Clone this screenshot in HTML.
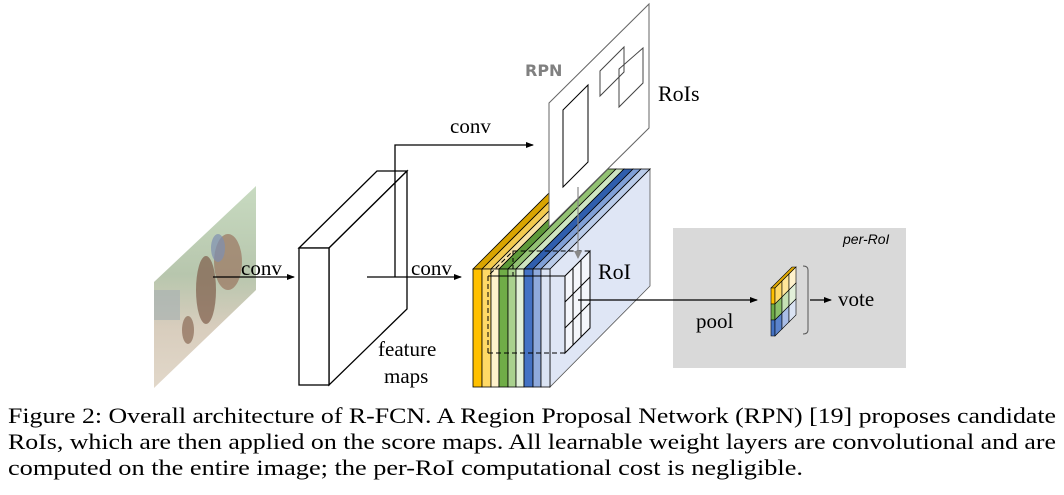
<!DOCTYPE html>
<html><head><meta charset="utf-8"><style>
html,body{margin:0;padding:0;background:#fff;}
svg{display:block;}
</style></head><body>
<svg width="1064" height="495" viewBox="0 0 1064 495" xmlns="http://www.w3.org/2000/svg">
<defs>
<linearGradient id="ph" x1="0" y1="0" x2="0" y2="1">
<stop offset="0" stop-color="#c9dcc2"/>
<stop offset="0.45" stop-color="#b7c6ad"/>
<stop offset="0.7" stop-color="#d8cdbd"/>
<stop offset="1" stop-color="#e2d8ca"/>
</linearGradient>
<clipPath id="pc"><polygon points="154,282 256,186 256,290 154,388"/></clipPath>
<marker id="ah" markerWidth="8" markerHeight="6" refX="7" refY="3" orient="auto" markerUnits="userSpaceOnUse"><path d="M0,0 L8,3 L0,6 Z" fill="#000"/></marker>
<marker id="ahg" markerWidth="8" markerHeight="8" refX="4" refY="7" orient="0" markerUnits="userSpaceOnUse"><path d="M0,0 L4,8 L8,0 Z" fill="#888"/></marker>
</defs>
<!-- photo -->
<g clip-path="url(#pc)">
<rect x="150" y="180" width="110" height="210" fill="url(#ph)"/>
<ellipse cx="228" cy="262" rx="14" ry="28" fill="#9a7560" opacity="0.7"/>
<ellipse cx="206" cy="290" rx="10" ry="34" fill="#7f5d4a" opacity="0.7"/>
<ellipse cx="218" cy="248" rx="7" ry="14" fill="#7d8fb0" opacity="0.7"/>
<ellipse cx="188" cy="330" rx="6" ry="14" fill="#8a6a55" opacity="0.7"/>
<rect x="154" y="290" width="26" height="30" fill="#a9b2b2" opacity="0.7"/>
</g>
<!-- feature maps -->
<polygon points="299,248 377,171 407,171 329,248" fill="#fff" stroke="#000" stroke-width="1.3"/>
<polygon points="329,248 407,171 407,309 329,385" fill="#fff" stroke="#000" stroke-width="1.3"/>
<rect x="299" y="248" width="30" height="137" fill="#fff" stroke="#000" stroke-width="1.3"/>
<!-- conv arrows -->
<line x1="213" y1="277" x2="294" y2="277" stroke="#000" stroke-width="1.3" marker-end="url(#ah)"/>
<line x1="367" y1="277" x2="461" y2="277" stroke="#000" stroke-width="1.3" marker-end="url(#ah)"/>
<polyline points="395,277 395,145 533,145" fill="none" stroke="#000" stroke-width="1.3" marker-end="url(#ah)"/>
<!-- stack -->
<g stroke="#000" stroke-width="0.8">
<polygon points="550,269 650,169 650,286 550,387" fill="#dfe6f5" stroke="#555"/>
<polygon points="473,269 573,169 582,169 482,269" fill="#d9a400"/>
<polygon points="482,269 582,169 591,169 491,269" fill="#f2c94c"/>
<polygon points="491,269 591,169 599,169 499,269" fill="#f7e3a6"/>
<polygon points="499,269 599,169 608,169 508,269" fill="#5e9a3a"/>
<polygon points="508,269 608,169 616,169 516,269" fill="#93c274"/>
<polygon points="516,269 616,169 624,169 524,269" fill="#cfe6c2"/>
<polygon points="524,269 624,169 633,169 533,269" fill="#2f5eae"/>
<polygon points="533,269 633,169 641,169 541,269" fill="#7f9fd6"/>
<polygon points="541,269 641,169 650,169 550,269" fill="#b9cbe9"/>
<rect x="473" y="269" width="9" height="118" fill="#ffc000"/>
<rect x="482" y="269" width="9" height="118" fill="#ffd966"/>
<rect x="491" y="269" width="8" height="118" fill="#fff2cc"/>
<rect x="499" y="269" width="9" height="118" fill="#70ad47"/>
<rect x="508" y="269" width="8" height="118" fill="#a9d18e"/>
<rect x="516" y="269" width="8" height="118" fill="#e2f0d9"/>
<rect x="524" y="269" width="9" height="118" fill="#4472c4"/>
<rect x="533" y="269" width="8" height="118" fill="#8faadc"/>
<rect x="541" y="269" width="9" height="118" fill="#dae3f3"/>
</g>
<!-- RoI box -->
<g stroke="#000" stroke-width="1" fill="none">
<polyline points="488,353 488,276 513,251 590,251" stroke-dasharray="5,3"/>
<line x1="513" y1="251" x2="513" y2="276" stroke-dasharray="4,3"/>
<line x1="488" y1="353" x2="565" y2="353" stroke-dasharray="5,3"/>
<line x1="488" y1="276" x2="565" y2="276"/>
<polygon points="565,276 590,251 590,328 565,353" fill="#f4f6fb"/>
<line x1="565" y1="276" x2="565" y2="353"/>
<line x1="573" y1="268" x2="573" y2="345"/>
<line x1="581" y1="260" x2="581" y2="337"/>
<line x1="565" y1="302" x2="590" y2="277"/>
<line x1="565" y1="328" x2="590" y2="303"/>
</g>
<!-- RPN plane -->
<polygon points="549,103 649,4 649,128 549,227" fill="#fff" stroke="#666" stroke-width="1"/>
<polygon points="563,110 588,85 588,162 563,187" fill="none" stroke="#000" stroke-width="1"/>
<polygon points="600,71 624,47 624,72 600,96" fill="none" stroke="#444" stroke-width="1"/>
<polygon points="619,69 643,48 643,83 619,107" fill="none" stroke="#444" stroke-width="1"/>
<line x1="578" y1="187" x2="578" y2="258" stroke="#888" stroke-width="1.2" marker-end="url(#ahg)"/>
<!-- per-RoI -->
<rect x="673" y="228" width="233" height="140" fill="#d9d9d9"/>
<line x1="578" y1="300" x2="757" y2="300" stroke="#000" stroke-width="1.3" marker-end="url(#ah)"/>
<g stroke="#000" stroke-width="0.6">
<polygon points="771,288 775,288 796,267 792,267" fill="#e0a800"/>
<polygon points="771,288 775,288 775,304 771,304" fill="#ffc000"/>
<polygon points="771,304 775,304 775,320 771,320" fill="#70ad47"/>
<polygon points="771,320 775,320 775,336 771,336" fill="#4472c4"/>
<polygon points="775,288 782,281 782,297 775,304" fill="#ffd966"/>
<polygon points="782,281 789,274 789,290 782,297" fill="#ffe699"/>
<polygon points="789,274 796,267 796,283 789,290" fill="#fff2cc"/>
<polygon points="775,304 782,297 782,313 775,320" fill="#8cbf6a"/>
<polygon points="782,297 789,290 789,306 782,313" fill="#c5e0b4"/>
<polygon points="789,290 796,283 796,299 789,306" fill="#e2f0d9"/>
<polygon points="775,320 782,313 782,329 775,336" fill="#5b83cc"/>
<polygon points="782,313 789,306 789,322 782,329" fill="#a9bde6"/>
<polygon points="789,306 796,299 796,315 789,322" fill="#dae3f3"/>
</g>
<path d="M803,266 Q808,266 808,270 L808,330 Q808,334 803,334" fill="none" stroke="#555" stroke-width="1"/>
<line x1="810" y1="300" x2="831" y2="300" stroke="#000" stroke-width="1.3" marker-end="url(#ah)"/>
<!-- labels -->
<g font-family="Liberation Serif, serif" font-size="21" fill="#000">
<text x="241" y="275">conv</text>
<text x="411" y="275">conv</text>
<text x="450" y="133">conv</text>
<text x="378" y="356">feature</text>
<text x="384" y="383">maps</text>
<text x="598" y="279" font-size="22">RoI</text>
<text x="658" y="101" font-size="22">RoIs</text>
<text x="696" y="328">pool</text>
<text x="838" y="306">vote</text>
</g>
<text x="525" y="76" font-family="DejaVu Sans, sans-serif" font-weight="bold" font-size="16" fill="#808080">RPN</text>
<text x="843" y="244" font-family="Liberation Sans, sans-serif" font-style="italic" font-size="14" fill="#000">per-RoI</text>
<g font-family="Liberation Serif, serif" font-size="22" fill="#000">
<text x="8" y="423" textLength="1048" lengthAdjust="spacingAndGlyphs">Figure 2: Overall architecture of R-FCN. A Region Proposal Network (RPN) [19] proposes candidate</text>
<text x="8" y="449" textLength="1048" lengthAdjust="spacingAndGlyphs">RoIs, which are then applied on the score maps. All learnable weight layers are convolutional and are</text>
<text x="8" y="475" textLength="795" lengthAdjust="spacingAndGlyphs">computed on the entire image; the per-RoI computational cost is negligible.</text>
</g>
</svg>
</body></html>
